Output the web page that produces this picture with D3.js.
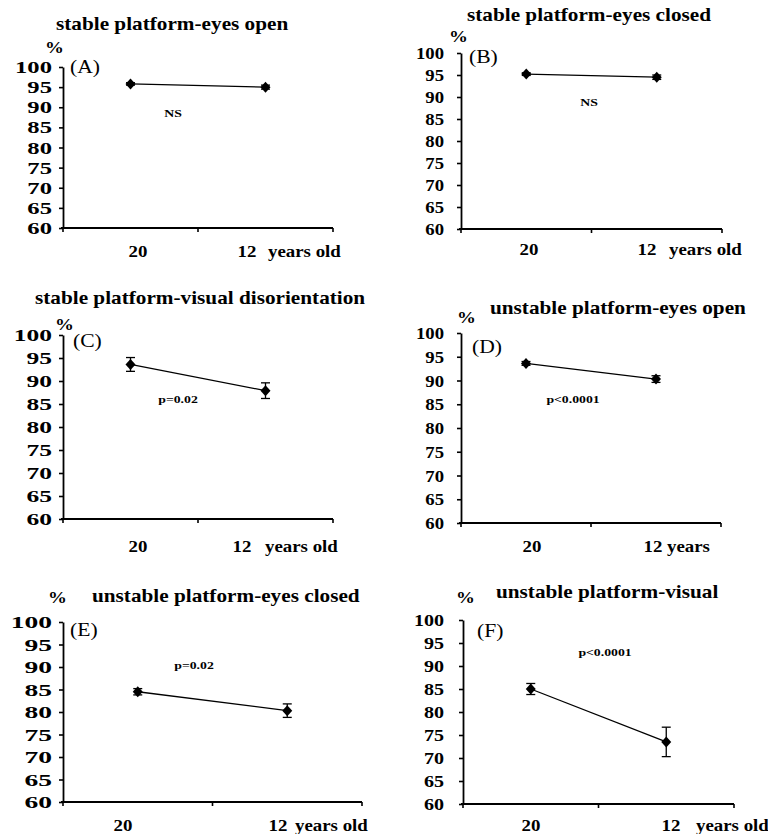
<!DOCTYPE html>
<html>
<head>
<meta charset="utf-8">
<script src="https://cdn.jsdelivr.net/npm/d3@7"></script>
<style>
  html, body { margin: 0; padding: 0; background: #fff; }
  svg { display: block; }
  text { font-family: "Liberation Serif", "Times New Roman", serif; fill: #000; }
</style>
</head>
<body>
<svg id="chart" width="768" height="834"></svg>
<script>
// Age groups on the x axis (years old)
const categories = ["20", "12"];
const yTicks = [60, 65, 70, 75, 80, 85, 90, 95, 100];

// One entry per panel (A–F)
const panelTitles = [
  "stable platform-eyes open",
  "stable platform-eyes closed",
  "stable platform-visual disorientation",
  "unstable platform-eyes open",
  "unstable platform-eyes closed",
  "unstable platform-visual"
];
const panelLetters = ["(A)", "(B)", "(C)", "(D)", "(E)", "(F)"];
const pLabels = ["NS", "NS", "p=0.02", "p<0.0001", "p=0.02", "p<0.0001"];
const unitLabels = ["years old", "years old", "years old", "years", "years old", "years old"];

// Mean score (%) and error for each age group
const means20 = [95.8, 95.2, 93.6, 93.6, 84.5, 85.0];
const means12 = [95.0, 94.5, 87.9, 90.3, 80.3, 73.5];
const err20 = [0.3, 0.3, 1.5, 0.4, 0.7, 1.2];
const err12 = [0.5, 0.5, 1.7, 0.7, 1.5, 3.2];

// Panel geometry (plot frame + text anchors)
const layout = [
  { x0: 63, x1: 333, yT: 67, yB: 228, title: [56, 30], pct: [45, 53], letter: [70, 73], p: [173, 117],
    lab20: [138, 257], lab12: 247, unit: 268, tickSx: 1.45, tickPad: 7 },
  { x0: 461, x1: 722, yT: 53, yB: 229, title: [467, 21], pct: [449, 42], letter: [469, 63], p: [589, 106],
    lab20: [529, 255], lab12: 647, unit: 669, tickSx: 1.1, tickPad: 13 },
  { x0: 63, x1: 333, yT: 335, yB: 519, title: [35, 304], pct: [55, 330], letter: [73, 347], p: [178, 403],
    lab20: [138, 552], lab12: 242, unit: 265, tickSx: 1.5, tickPad: 7 },
  { x0: 461, x1: 721, yT: 333, yB: 523, title: [490, 314], pct: [457, 323], letter: [472, 353], p: [573, 403],
    lab20: [532, 552], lab12: 653, unit: 667, tickSx: 1.1, tickPad: 13 },
  { x0: 63, x1: 362, yT: 622, yB: 802, title: [92, 602], pct: [48, 603], letter: [70, 636], p: [194, 669],
    lab20: [123, 831], lab12: 278, unit: 295, tickSx: 1.62, tickPad: 7 },
  { x0: 463, x1: 734, yT: 620, yB: 804, title: [496, 598], pct: [456, 603], letter: [477, 637], p: [605, 656],
    lab20: [531, 831], lab12: 671, unit: 696, tickSx: 1.18, tickPad: 15 }
];

const SX = 1.18; // horizontal stretch of the lettering
const svg = d3.select("#chart");

function label(g, str, x, y, opt) {
  const o = Object.assign({ size: 16, weight: "bold", anchor: "start", sx: SX }, opt || {});
  return g.append("text")
    .attr("transform", `translate(${x},${y}) scale(${o.sx},1)`)
    .attr("text-anchor", o.anchor)
    .attr("font-size", o.size)
    .attr("font-weight", o.weight)
    .text(str);
}

layout.forEach((L, i) => {
  const g = svg.append("g");

  const x = d3.scaleBand().domain(categories).range([L.x0, L.x1]).padding(0);
  const y = d3.scaleLinear().domain([60, 100]).range([L.yB, L.yT]);

  // y axis
  const yAxis = g.append("g")
    .attr("transform", `translate(${L.x0},0)`)
    .call(d3.axisLeft(y).tickValues(yTicks).tickSize(4).tickPadding(L.tickPad).tickSizeOuter(0));
  yAxis.select(".domain").attr("stroke", "#000").attr("stroke-width", 1.8);
  yAxis.selectAll(".tick line").attr("stroke", "#000").attr("stroke-width", 1.6);
  yAxis.selectAll(".tick text").each(function () {
    const t = d3.select(this);
    const tx = +t.attr("x");
    t.attr("x", 0).attr("dy", null)
      .attr("transform", `translate(${tx},0) scale(${L.tickSx},1)`)
      .attr("dominant-baseline", "central")
      .attr("font-size", 17).attr("font-weight", "bold")
      .attr("font-family", "'Liberation Serif', 'Times New Roman', serif");
  });

  // x axis: baseline with ticks at band edges
  const xAxis = g.append("g").attr("transform", `translate(0,${L.yB})`);
  xAxis.append("line").attr("x1", L.x0 - 2).attr("x2", L.x1)
    .attr("stroke", "#000").attr("stroke-width", 1.8);
  const edges = [x.range()[0], ...categories.map(c => x(c) + x.bandwidth())];
  xAxis.selectAll("line.tk").data(edges).join("line").attr("class", "tk")
    .attr("x1", d => d).attr("x2", d => d).attr("y1", 0).attr("y2", 4)
    .attr("stroke", "#000").attr("stroke-width", 1.6);

  // data
  const pts = [
    { c: categories[0], m: means20[i], e: err20[i] },
    { c: categories[1], m: means12[i], e: err12[i] }
  ];
  const cx = d => x(d.c) + x.bandwidth() / 2;

  g.append("path").datum(pts)
    .attr("d", d3.line().x(cx).y(d => y(d.m)))
    .attr("fill", "none").attr("stroke", "#000").attr("stroke-width", 1.3);

  const eb = g.append("g").selectAll("g").data(pts).join("g");
  eb.append("line").attr("x1", cx).attr("x2", cx)
    .attr("y1", d => y(d.m + d.e)).attr("y2", d => y(d.m - d.e))
    .attr("stroke", "#000").attr("stroke-width", 1.3);
  [1, -1].forEach(s => {
    eb.append("line")
      .attr("x1", d => cx(d) - 4.5).attr("x2", d => cx(d) + 4.5)
      .attr("y1", d => y(d.m + s * d.e)).attr("y2", d => y(d.m + s * d.e))
      .attr("stroke", "#000").attr("stroke-width", 1.3);
  });
  eb.append("path")
    .attr("d", d => {
      const px = cx(d), py = y(d.m);
      return `M${px},${py - 5.5}L${px + 5},${py}L${px},${py + 5.5}L${px - 5},${py}Z`;
    })
    .attr("fill", "#000");

  // lettering
  label(g, panelTitles[i], L.title[0], L.title[1], { size: 18 });
  label(g, "%", L.pct[0], L.pct[1], { size: 16 });
  label(g, panelLetters[i], L.letter[0], L.letter[1], { size: 18, weight: "normal", sx: 1.2 });
  label(g, pLabels[i], L.p[0], L.p[1], { size: 11, anchor: "middle", sx: 1.25 });
  label(g, categories[0], L.lab20[0], L.lab20[1], { size: 16, anchor: "middle" });
  label(g, categories[1], L.lab12, L.lab20[1], { size: 16, anchor: "middle" });
  label(g, unitLabels[i], L.unit, L.lab20[1], { size: 16 });
});
</script>
</body>
</html>
